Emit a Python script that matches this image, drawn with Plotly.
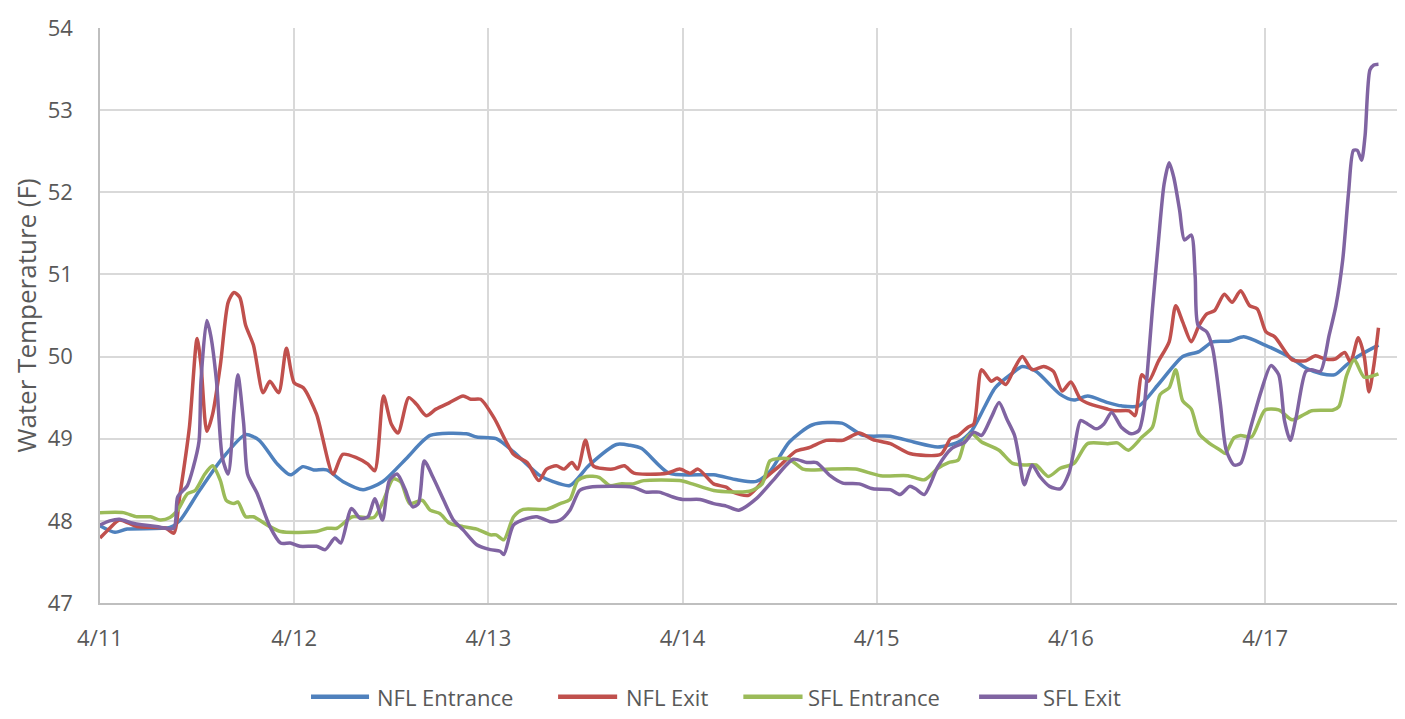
import plotly.graph_objects as go

# Time in days since 4/11 00:00
tick_vals = [0, 1, 2, 3, 4, 5, 6]
tick_text = ["4/11", "4/12", "4/13", "4/14", "4/15", "4/16", "4/17"]
y_ticks = [47, 48, 49, 50, 51, 52, 53, 54]

nfl_ent_t = [0, 0.077, 0.14, 0.36, 0.41, 0.51, 0.63, 0.75, 0.82, 0.91, 0.98, 1.045, 1.10, 1.167, 1.25, 1.355, 1.457, 1.578, 1.70, 1.887, 1.94, 2.04, 2.13, 2.26, 2.33, 2.42, 2.52, 2.66, 2.73, 2.79, 2.93, 3.16, 3.28, 3.38, 3.45, 3.55, 3.67, 3.82, 3.93, 4.07, 4.19, 4.315, 4.42, 4.49, 4.61, 4.70, 4.75, 4.82, 4.945, 5.016, 5.086, 5.19, 5.26, 5.35, 5.45, 5.576, 5.66, 5.73, 5.82, 5.89, 6.0, 6.136, 6.21, 6.29, 6.36, 6.42, 6.49, 6.584]
nfl_ent_v = [47.94, 47.86, 47.9, 47.92, 48.0, 48.36, 48.76, 49.05, 48.98, 48.70, 48.56, 48.66, 48.62, 48.62, 48.48, 48.38, 48.48, 48.76, 49.04, 49.06, 49.02, 49.0, 48.84, 48.56, 48.48, 48.43, 48.68, 48.93, 48.92, 48.88, 48.58, 48.56, 48.50, 48.48, 48.6, 48.96, 49.17, 49.19, 49.04, 49.03, 48.96, 48.9, 48.96, 49.1, 49.62, 49.8, 49.88, 49.82, 49.54, 49.47, 49.52, 49.44, 49.4, 49.4, 49.66, 50.0, 50.06, 50.18, 50.19, 50.24, 50.14, 49.98, 49.86, 49.79, 49.78, 49.9, 50.02, 50.14]

nfl_exit_t = [0, 0.05, 0.10, 0.19, 0.29, 0.34, 0.38, 0.41, 0.46, 0.50, 0.52, 0.55, 0.58, 0.62, 0.66, 0.69, 0.72, 0.75, 0.79, 0.84, 0.875, 0.92, 0.96, 1.0, 1.047, 1.115, 1.20, 1.25, 1.32, 1.38, 1.415, 1.46, 1.50, 1.535, 1.59, 1.63, 1.68, 1.73, 1.80, 1.87, 1.91, 1.96, 2.03, 2.13, 2.20, 2.26, 2.30, 2.35, 2.39, 2.43, 2.46, 2.50, 2.54, 2.64, 2.70, 2.75, 2.92, 2.985, 3.04, 3.08, 3.16, 3.225, 3.26, 3.34, 3.43, 3.50, 3.585, 3.65, 3.74, 3.825, 3.91, 3.98, 4.07, 4.17, 4.33, 4.38, 4.42, 4.47, 4.50, 4.54, 4.59, 4.62, 4.665, 4.71, 4.75, 4.80, 4.86, 4.91, 4.955, 5.0, 5.05, 5.10, 5.19, 5.225, 5.30, 5.33, 5.366, 5.40, 5.45, 5.506, 5.54, 5.576, 5.62, 5.66, 5.70, 5.74, 5.79, 5.83, 5.874, 5.92, 5.96, 6.005, 6.05, 6.14, 6.21, 6.26, 6.31, 6.36, 6.41, 6.44, 6.48, 6.51, 6.535, 6.56, 6.584]
nfl_exit_v = [47.79, 47.91, 48.01, 47.93, 47.92, 47.91, 47.85, 48.29, 49.13, 50.22, 49.9, 49.09, 49.3, 49.9, 50.66, 50.78, 50.72, 50.38, 50.14, 49.56, 49.7, 49.56, 50.1, 49.68, 49.62, 49.3, 48.57, 48.81, 48.77, 48.69, 48.61, 49.52, 49.18, 49.07, 49.5, 49.42, 49.28, 49.36, 49.44, 49.52, 49.48, 49.48, 49.25, 48.81, 48.71, 48.49, 48.63, 48.67, 48.63, 48.71, 48.63, 48.98, 48.67, 48.63, 48.67, 48.58, 48.58, 48.63, 48.58, 48.63, 48.45, 48.41, 48.35, 48.31, 48.53, 48.67, 48.85, 48.89, 48.98, 48.98, 49.07, 48.99, 48.94, 48.82, 48.81, 49.0, 49.04, 49.14, 49.18, 49.84, 49.7, 49.74, 49.66, 49.86, 50.0, 49.84, 49.88, 49.82, 49.58, 49.69, 49.48, 49.42, 49.36, 49.34, 49.34, 49.28, 49.78, 49.7, 49.94, 50.18, 50.62, 50.42, 50.18, 50.38, 50.52, 50.56, 50.76, 50.66, 50.8, 50.62, 50.58, 50.3, 50.24, 49.96, 49.95, 50.01, 49.97, 49.97, 50.05, 49.93, 50.23, 50.01, 49.57, 49.89, 50.35]

sfl_ent_t = [0, 0.12, 0.19, 0.26, 0.31, 0.36, 0.40, 0.45, 0.49, 0.54, 0.58, 0.62, 0.65, 0.69, 0.71, 0.75, 0.79, 0.86, 0.93, 1.115, 1.17, 1.22, 1.30, 1.41, 1.46, 1.51, 1.55, 1.595, 1.66, 1.70, 1.75, 1.80, 1.87, 1.94, 2.01, 2.04, 2.08, 2.13, 2.18, 2.30, 2.37, 2.42, 2.46, 2.505, 2.57, 2.625, 2.68, 2.745, 2.80, 2.985, 3.05, 3.16, 3.345, 3.41, 3.45, 3.50, 3.55, 3.62, 3.67, 3.77, 3.89, 4.02, 4.16, 4.245, 4.315, 4.37, 4.42, 4.455, 4.49, 4.54, 4.63, 4.70, 4.77, 4.82, 4.884, 4.945, 5.016, 5.086, 5.19, 5.24, 5.296, 5.366, 5.42, 5.46, 5.506, 5.54, 5.576, 5.62, 5.66, 5.716, 5.77, 5.795, 5.84, 5.874, 5.93, 6.0, 6.07, 6.14, 6.19, 6.24, 6.35, 6.38, 6.42, 6.46, 6.51, 6.584]
sfl_ent_v = [48.10, 48.10, 48.05, 48.05, 48.01, 48.04, 48.13, 48.33, 48.37, 48.57, 48.67, 48.49, 48.25, 48.21, 48.23, 48.05, 48.05, 47.95, 47.87, 47.87, 47.91, 47.91, 48.05, 48.04, 48.25, 48.51, 48.47, 48.21, 48.25, 48.13, 48.09, 47.97, 47.93, 47.90, 47.83, 47.83, 47.77, 48.05, 48.14, 48.14, 48.21, 48.26, 48.49, 48.54, 48.53, 48.43, 48.45, 48.45, 48.49, 48.49, 48.45, 48.37, 48.36, 48.45, 48.73, 48.76, 48.75, 48.63, 48.62, 48.63, 48.63, 48.55, 48.55, 48.5, 48.64, 48.71, 48.74, 48.98, 49.06, 48.96, 48.86, 48.7, 48.68, 48.68, 48.54, 48.64, 48.7, 48.94, 48.94, 48.95, 48.86, 49.02, 49.14, 49.54, 49.62, 49.84, 49.46, 49.36, 49.06, 48.94, 48.86, 48.82, 49.01, 49.04, 49.02, 49.35, 49.35, 49.23, 49.28, 49.34, 49.35, 49.39, 49.77, 49.96, 49.75, 49.79]

sfl_exit_t = [0, 0.05, 0.10, 0.17, 0.29, 0.38, 0.40, 0.45, 0.48, 0.51, 0.52, 0.55, 0.57, 0.60, 0.63, 0.66, 0.69, 0.71, 0.74, 0.76, 0.81, 0.875, 0.93, 0.98, 1.03, 1.115, 1.16, 1.21, 1.24, 1.295, 1.34, 1.38, 1.415, 1.455, 1.49, 1.53, 1.57, 1.61, 1.64, 1.67, 1.715, 1.77, 1.82, 1.87, 1.94, 2.01, 2.06, 2.08, 2.13, 2.20, 2.25, 2.32, 2.37, 2.42, 2.47, 2.52, 2.745, 2.81, 2.88, 2.95, 3.0, 3.09, 3.16, 3.225, 3.29, 3.38, 3.465, 3.57, 3.64, 3.69, 3.76, 3.825, 3.91, 3.98, 4.07, 4.12, 4.17, 4.20, 4.245, 4.315, 4.385, 4.455, 4.50, 4.54, 4.59, 4.63, 4.67, 4.71, 4.735, 4.76, 4.80, 4.84, 4.89, 4.945, 4.99, 5.016, 5.05, 5.086, 5.13, 5.17, 5.21, 5.26, 5.31, 5.35, 5.375, 5.39, 5.42, 5.45, 5.48, 5.506, 5.53, 5.56, 5.585, 5.62, 5.64, 5.655, 5.70, 5.73, 5.77, 5.80, 5.84, 5.874, 5.926, 5.98, 6.03, 6.07, 6.10, 6.13, 6.16, 6.21, 6.24, 6.285, 6.33, 6.365, 6.40, 6.43, 6.455, 6.475, 6.497, 6.515, 6.54, 6.56, 6.584]
sfl_exit_v = [47.95, 48.0, 48.02, 47.97, 47.93, 47.91, 48.29, 48.43, 48.65, 48.97, 49.7, 50.44, 50.26, 49.7, 48.77, 48.57, 49.34, 49.78, 49.18, 48.57, 48.33, 47.93, 47.73, 47.73, 47.69, 47.69, 47.65, 47.79, 47.73, 48.15, 48.03, 48.05, 48.27, 48.01, 48.49, 48.57, 48.39, 48.17, 48.21, 48.73, 48.53, 48.25, 48.01, 47.89, 47.71, 47.65, 47.63, 47.59, 47.95, 48.03, 48.05, 47.99, 48.01, 48.13, 48.37, 48.41, 48.41, 48.35, 48.35, 48.29, 48.26, 48.26, 48.21, 48.18, 48.13, 48.27, 48.49, 48.75, 48.71, 48.71, 48.55, 48.46, 48.45, 48.39, 48.38, 48.32, 48.42, 48.39, 48.32, 48.66, 48.88, 48.96, 49.08, 49.04, 49.26, 49.44, 49.24, 49.04, 48.74, 48.44, 48.68, 48.54, 48.42, 48.39, 48.58, 48.86, 49.22, 49.18, 49.12, 49.18, 49.32, 49.14, 49.06, 49.1, 49.34, 49.7, 50.58, 51.38, 52.1, 52.36, 52.18, 51.78, 51.42, 51.48, 50.98, 50.38, 50.3, 50.1, 49.42, 48.86, 48.68, 48.7, 49.14, 49.58, 49.89, 49.78, 49.22, 48.98, 49.26, 49.82, 49.84, 49.82, 50.26, 50.62, 51.18, 52.0, 52.51, 52.51, 52.39, 52.69, 53.49, 53.55, 53.56]

series = [
    ("NFL Entrance", nfl_ent_t, nfl_ent_v, "#4F81BD"),
    ("NFL Exit", nfl_exit_t, nfl_exit_v, "#C0504D"),
    ("SFL Entrance", sfl_ent_t, sfl_ent_v, "#9BBB59"),
    ("SFL Exit", sfl_exit_t, sfl_exit_v, "#8064A2"),
]

# legend layout (paper fractions of the plot area): swatch start, swatch end
legend_swatches = [(0.1622, 0.2068), (0.3521, 0.3975), (0.4945, 0.5400), (0.6757, 0.7203)]
legend_text_x = [0.2122, 0.4036, 0.5434, 0.7241]
legend_y = -0.1630

font_family = "Open Sans, sans-serif"
fig = go.Figure()
shapes = []
annotations = []
for (name, t, v, color), (x0, x1), tx in zip(series, legend_swatches, legend_text_x):
    assert len(t) == len(v), (name, len(t), len(v))
    fig.add_trace(go.Scatter(
        x=t, y=v, mode="lines", name=name, showlegend=False,
        line=dict(color=color, width=3.5, shape="spline", smoothing=0.7),
    ))
    shapes.append(dict(type="line", xref="paper", yref="paper", x0=x0, x1=x1,
                       y0=legend_y, y1=legend_y, line=dict(color=color, width=4.5)))
    annotations.append(dict(text=name, xref="paper", yref="paper", x=tx, y=legend_y,
                            xanchor="left", yanchor="middle", showarrow=False, borderpad=0,
                            font=dict(size=22, color="#595959", family=font_family)))

fig.update_layout(
    width=1397, height=711,
    margin=dict(l=92, r=4, t=12, b=116),
    paper_bgcolor="white", plot_bgcolor="white",
    font=dict(family=font_family, color="#595959", size=22),
    showlegend=False,
    shapes=shapes, annotations=annotations,
)
fig.update_xaxes(
    range=[0, 6.7], tickvals=tick_vals, ticktext=tick_text,
    showgrid=True, gridcolor="#D9D9D9", gridwidth=1.5,
    showline=True, linecolor="#BFBFBF", linewidth=1.5,
    zeroline=False, ticks="", ticklabelstandoff=15, ticklabeloverflow="allow",
    tickfont=dict(size=22, color="#595959"),
)
fig.update_yaxes(
    range=[47, 54], tickvals=y_ticks,
    showgrid=True, gridcolor="#D9D9D9", gridwidth=1.5,
    showline=True, linecolor="#BFBFBF", linewidth=1.5,
    zeroline=False, ticks="", ticklabelstandoff=21, ticklabeloverflow="allow",
    tickfont=dict(size=22, color="#595959"),
    title=dict(text="Water Temperature (F)", font=dict(size=26, color="#595959"), standoff=14),
)

fig.write_html("out.html")
